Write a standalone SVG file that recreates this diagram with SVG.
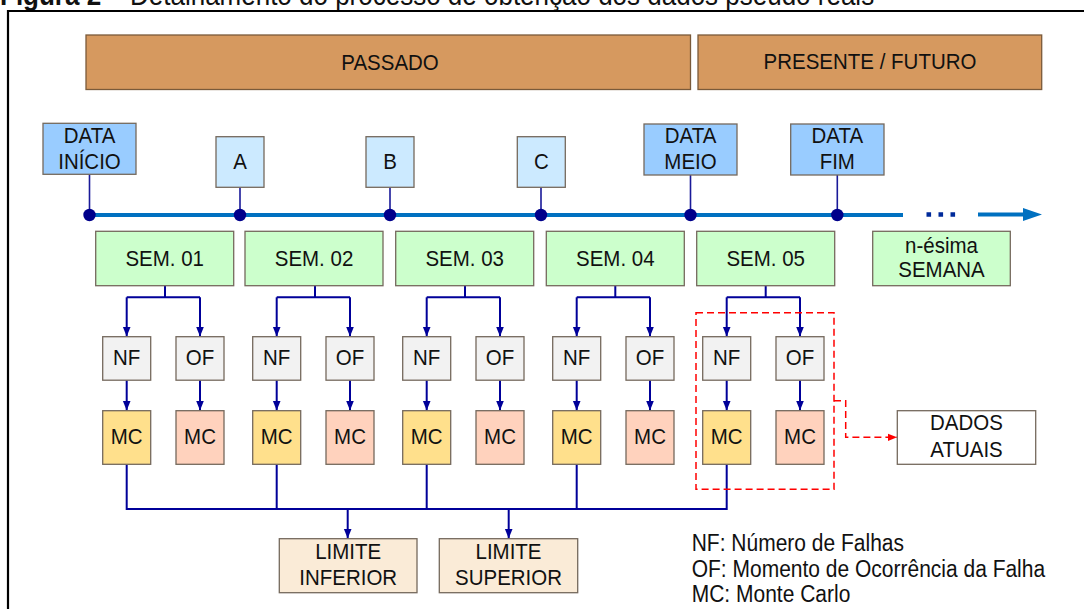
<svg xmlns="http://www.w3.org/2000/svg" width="1084" height="609" viewBox="0 0 1084 609">
<style>
text{font-family:"Liberation Sans",Arial,sans-serif;fill:#111;}
.t{font-size:20.5px;text-anchor:middle;}
.lg{font-size:21px;}
.box{stroke:#75695d;stroke-width:1.3;}
.band{fill:#D6995F;stroke:#7a5a3a;stroke-width:1.3;}
.dt{fill:#99CCFF;}
.ltr{fill:#CCEAFF;}
.sem{fill:#CCFFCC;}
.nf{fill:#F2F2F2;}
.mcy{fill:#FFE08C;}
.mcs{fill:#FFD2BD;}
.lim{fill:#FAEBD7;}
.wht{fill:#FFFFFF;}
.con{fill:none;stroke:#000099;stroke-width:2;}
.stem{fill:none;stroke:#1a1a99;stroke-width:1.6;}
.arr{fill:none;stroke:#000099;stroke-width:2;marker-end:url(#ah);}
.red{fill:none;stroke:#FF0000;stroke-width:1.5;stroke-dasharray:7 4;}
</style>
<defs>
<marker id="ah" markerUnits="userSpaceOnUse" markerWidth="10" markerHeight="10" viewBox="0 0 10 10" refX="10" refY="5" orient="auto">
<path d="M0 1 L10 5 L0 9 Z" fill="#000099"/>
</marker>
<marker id="rah" markerUnits="userSpaceOnUse" markerWidth="9" markerHeight="9" viewBox="0 0 10 10" refX="10" refY="5" orient="auto">
<path d="M0 1 L10 5 L0 9 Z" fill="#FF0000"/>
</marker>
</defs>
<rect width="1084" height="609" fill="#fff"/>
<text x="0" y="0" font-size="26" transform="translate(0 5) scale(1 1.12)"><tspan font-weight="bold">Figura 2</tspan> – Detalhamento do processo de obtenção dos dados pseudo reais</text>
<path d="M8 609 V11 H1084" fill="none" stroke="#000" stroke-width="2.2"/>

<g id="connectors">
<line x1="89.5" y1="215" x2="903" y2="215" stroke="#0070C0" stroke-width="4.2"/>
<line x1="926.5" y1="214.5" x2="956" y2="214.5" stroke="#002a9a" stroke-width="4.6" stroke-dasharray="4.6 7.4"/>
<line x1="978" y1="214.5" x2="1024" y2="214.5" stroke="#0070C0" stroke-width="4.2"/>
<path d="M1023 208 L1042 214.5 L1023 221 Z" fill="#0070C0"/>
<path class="stem" d="M89.5 174 V215 M240 187 V215 M390 187 V215 M541 187 V215 M690.5 175 V215 M837.3 175 V215"/>
<g fill="#00008B">
<circle cx="89.5" cy="215" r="6.2"/>
<circle cx="240" cy="215" r="6.2"/>
<circle cx="390" cy="215" r="6.2"/>
<circle cx="541" cy="215" r="6.2"/>
<circle cx="690.5" cy="215" r="6.2"/>
<circle cx="837.3" cy="215" r="6.2"/>
</g>
<path class="con" d="M165 285.7 V297.3 M126.7 297.3 H200 M315 285.7 V297.3 M276.7 297.3 H350 M465 285.7 V297.3 M426.7 297.3 H500 M615.3 285.7 V297.3 M576.7 297.3 H650 M765.7 285.7 V297.3 M726.7 297.3 H800"/>
<path class="arr" d="M126.7 297.3 V336.5"/>
<path class="arr" d="M200 297.3 V336.5"/>
<path class="arr" d="M276.7 297.3 V336.5"/>
<path class="arr" d="M350 297.3 V336.5"/>
<path class="arr" d="M426.7 297.3 V336.5"/>
<path class="arr" d="M500 297.3 V336.5"/>
<path class="arr" d="M576.7 297.3 V336.5"/>
<path class="arr" d="M650 297.3 V336.5"/>
<path class="arr" d="M726.7 297.3 V336.5"/>
<path class="arr" d="M800 297.3 V336.5"/>
<path class="arr" d="M126.7 380.2 V410.5"/>
<path class="arr" d="M200 380.2 V410.5"/>
<path class="arr" d="M276.7 380.2 V410.5"/>
<path class="arr" d="M350 380.2 V410.5"/>
<path class="arr" d="M426.7 380.2 V410.5"/>
<path class="arr" d="M500 380.2 V410.5"/>
<path class="arr" d="M576.7 380.2 V410.5"/>
<path class="arr" d="M650 380.2 V410.5"/>
<path class="arr" d="M726.7 380.2 V410.5"/>
<path class="arr" d="M800 380.2 V410.5"/>
<path class="con" d="M126.7 464.3 V509 H726.7 V464.3 M276.7 464.3 V509 M426.7 464.3 V509 M576.7 464.3 V509"/>
<path class="arr" d="M347.7 509 V538.5"/>
<path class="arr" d="M508.7 509 V538.5"/>
<rect class="red" x="696" y="312.7" width="138" height="176.6"/>
<path class="red" d="M834 400.7 H845.7 V437.3 H897" marker-end="url(#rah)"/>
</g>

<g id="passado"><rect class="band" x="86" y="35" width="604.5" height="54.5"/><text class="t" transform="translate(390 69.5) scale(1 1.12)">PASSADO</text></g>
<g id="presente"><rect class="band" x="698" y="35" width="343.7" height="54.5"/><text class="t" transform="translate(870 69) scale(1 1.12)">PRESENTE / FUTURO</text></g>

<g id="data-inicio"><rect class="box dt" x="43" y="123.3" width="93" height="51"/><text class="t" transform="translate(89.5 143.3) scale(1 1.12)">DATA</text><text class="t" transform="translate(89.5 169) scale(1 1.12)">INÍCIO</text></g>
<g id="a"><rect class="box ltr" x="216" y="136.7" width="48" height="50.6"/><text class="t" transform="translate(240 169) scale(1 1.12)">A</text></g>
<g id="b"><rect class="box ltr" x="366" y="136.7" width="48" height="50.6"/><text class="t" transform="translate(390 169) scale(1 1.12)">B</text></g>
<g id="c"><rect class="box ltr" x="517.3" y="136.7" width="48" height="50.6"/><text class="t" transform="translate(541.3 169) scale(1 1.12)">C</text></g>
<g id="data-meio"><rect class="box dt" x="644" y="124" width="93" height="51"/><text class="t" transform="translate(690.5 143.3) scale(1 1.12)">DATA</text><text class="t" transform="translate(690.5 169) scale(1 1.12)">MEIO</text></g>
<g id="data-fim"><rect class="box dt" x="790.7" y="124" width="93.3" height="51"/><text class="t" transform="translate(837.3 143.3) scale(1 1.12)">DATA</text><text class="t" transform="translate(837.3 169) scale(1 1.12)">FIM</text></g>

<g id="sem01"><rect class="box sem" x="95.7" y="231.3" width="138" height="54.4"/><text class="t" transform="translate(164.7 265.7) scale(1 1.12)">SEM. 01</text></g>
<g id="sem02"><rect class="box sem" x="245" y="231.3" width="138" height="54.4"/><text class="t" transform="translate(314 265.7) scale(1 1.12)">SEM. 02</text></g>
<g id="sem03"><rect class="box sem" x="395.7" y="231.3" width="138" height="54.4"/><text class="t" transform="translate(464.7 265.7) scale(1 1.12)">SEM. 03</text></g>
<g id="sem04"><rect class="box sem" x="546.3" y="231.3" width="138" height="54.4"/><text class="t" transform="translate(615.3 265.7) scale(1 1.12)">SEM. 04</text></g>
<g id="sem05"><rect class="box sem" x="696.7" y="231.3" width="138" height="54.4"/><text class="t" transform="translate(765.7 265.7) scale(1 1.12)">SEM. 05</text></g>
<g id="sem-n"><rect class="box sem" x="872.7" y="231.3" width="137.6" height="54.4"/><text class="t" transform="translate(941.5 252.7) scale(1 1.12)">n-ésima</text><text class="t" transform="translate(941.5 277.3) scale(1 1.12)">SEMANA</text></g>

<g id="nf1"><rect class="box nf" x="102.7" y="336.7" width="48" height="43.5"/><text class="t" transform="translate(126.7 365) scale(1 1.12)">NF</text></g>
<g id="of1"><rect class="box nf" x="176" y="336.7" width="48" height="43.5"/><text class="t" transform="translate(200 365) scale(1 1.12)">OF</text></g>
<g id="nf2"><rect class="box nf" x="252.7" y="336.7" width="48" height="43.5"/><text class="t" transform="translate(276.7 365) scale(1 1.12)">NF</text></g>
<g id="of2"><rect class="box nf" x="326" y="336.7" width="48" height="43.5"/><text class="t" transform="translate(350 365) scale(1 1.12)">OF</text></g>
<g id="nf3"><rect class="box nf" x="402.7" y="336.7" width="48" height="43.5"/><text class="t" transform="translate(426.7 365) scale(1 1.12)">NF</text></g>
<g id="of3"><rect class="box nf" x="476" y="336.7" width="48" height="43.5"/><text class="t" transform="translate(500 365) scale(1 1.12)">OF</text></g>
<g id="nf4"><rect class="box nf" x="552.7" y="336.7" width="48" height="43.5"/><text class="t" transform="translate(576.7 365) scale(1 1.12)">NF</text></g>
<g id="of4"><rect class="box nf" x="626" y="336.7" width="48" height="43.5"/><text class="t" transform="translate(650 365) scale(1 1.12)">OF</text></g>
<g id="nf5"><rect class="box nf" x="702.7" y="336.7" width="48" height="43.5"/><text class="t" transform="translate(726.7 365) scale(1 1.12)">NF</text></g>
<g id="of5"><rect class="box nf" x="776" y="336.7" width="48" height="43.5"/><text class="t" transform="translate(800 365) scale(1 1.12)">OF</text></g>

<g id="mcn1"><rect class="box mcy" x="102.7" y="410.7" width="48" height="53.6"/><text class="t" transform="translate(126.7 444.3) scale(1 1.12)">MC</text></g>
<g id="mco1"><rect class="box mcs" x="176" y="410.7" width="48" height="53.6"/><text class="t" transform="translate(200 444.3) scale(1 1.12)">MC</text></g>
<g id="mcn2"><rect class="box mcy" x="252.7" y="410.7" width="48" height="53.6"/><text class="t" transform="translate(276.7 444.3) scale(1 1.12)">MC</text></g>
<g id="mco2"><rect class="box mcs" x="326" y="410.7" width="48" height="53.6"/><text class="t" transform="translate(350 444.3) scale(1 1.12)">MC</text></g>
<g id="mcn3"><rect class="box mcy" x="402.7" y="410.7" width="48" height="53.6"/><text class="t" transform="translate(426.7 444.3) scale(1 1.12)">MC</text></g>
<g id="mco3"><rect class="box mcs" x="476" y="410.7" width="48" height="53.6"/><text class="t" transform="translate(500 444.3) scale(1 1.12)">MC</text></g>
<g id="mcn4"><rect class="box mcy" x="552.7" y="410.7" width="48" height="53.6"/><text class="t" transform="translate(576.7 444.3) scale(1 1.12)">MC</text></g>
<g id="mco4"><rect class="box mcs" x="626" y="410.7" width="48" height="53.6"/><text class="t" transform="translate(650 444.3) scale(1 1.12)">MC</text></g>
<g id="mcn5"><rect class="box mcy" x="702.7" y="410.7" width="48" height="53.6"/><text class="t" transform="translate(726.7 444.3) scale(1 1.12)">MC</text></g>
<g id="mco5"><rect class="box mcs" x="776" y="410.7" width="48" height="53.6"/><text class="t" transform="translate(800 444.3) scale(1 1.12)">MC</text></g>

<g id="dados-atuais"><rect class="box wht" x="897.3" y="410.7" width="138.4" height="53.6"/><text class="t" transform="translate(966.5 430) scale(1 1.12)">DADOS</text><text class="t" transform="translate(966.5 456.5) scale(1 1.12)">ATUAIS</text></g>
<g id="limite-inferior"><rect class="box lim" x="279.3" y="538.7" width="137.7" height="54"/><text class="t" transform="translate(348.2 559.3) scale(1 1.12)">LIMITE</text><text class="t" transform="translate(348.2 585) scale(1 1.12)">INFERIOR</text></g>
<g id="limite-superior"><rect class="box lim" x="439.3" y="538.7" width="138.4" height="54"/><text class="t" transform="translate(508.5 559.3) scale(1 1.12)">LIMITE</text><text class="t" transform="translate(508.5 585) scale(1 1.12)">SUPERIOR</text></g>

<g id="legenda">
<text class="lg" transform="translate(691.7 551) scale(1 1.12)">NF: Número de Falhas</text>
<text class="lg" transform="translate(691.7 576.5) scale(1 1.12)">OF: Momento de Ocorrência da Falha</text>
<text class="lg" transform="translate(691.7 602) scale(1 1.12)">MC: Monte Carlo</text>
</g>
</svg>
